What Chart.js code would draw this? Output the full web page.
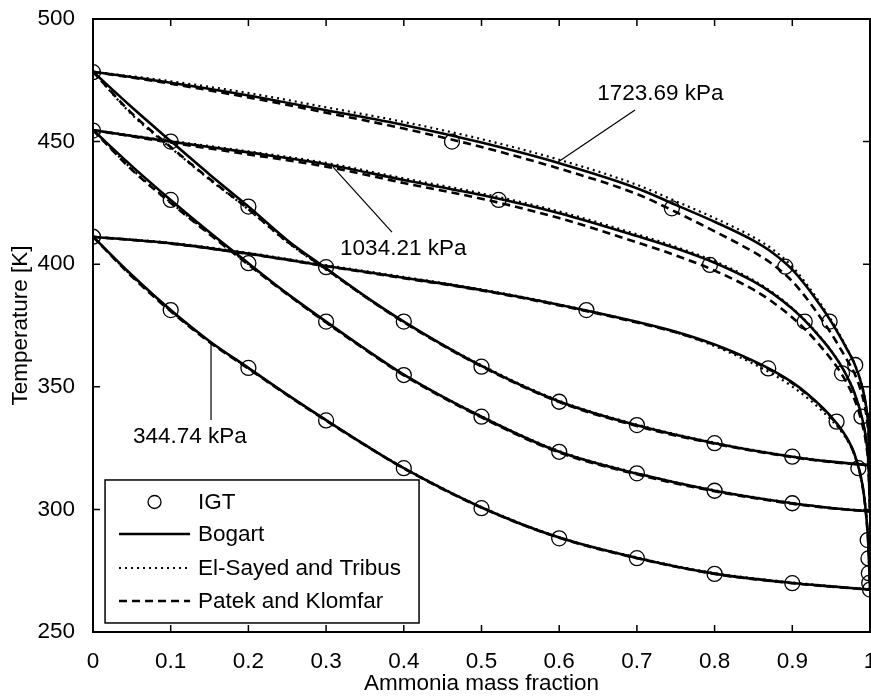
<!DOCTYPE html>
<html><head><meta charset="utf-8">
<script src="https://cdn.jsdelivr.net/npm/chart.js@4.4.0/dist/chart.umd.min.js"></script>
<style>html,body{margin:0;padding:0;background:#fff;}canvas{display:block;}</style>
</head><body>
<canvas id="c" width="871" height="698"></canvas>
<script>
// ---------------- data ----------------
const xBubble = [0,0.05,0.1,0.15,0.2,0.25,0.3,0.35,0.4,0.5,0.6,0.7,0.8,0.9,0.95,1];
const xDew = [0,0.1,0.2,0.3,0.4,0.5,0.6,0.7,0.75,0.8,0.85,0.875,0.9,0.92,0.94,0.95,0.96,0.97,0.98,0.99,0.995,0.998,1];

// Bogart (solid)
const bogartBubble1723 = [478.5,464.0,450.2,436.6,423.5,409.8,398.3,387.0,376.6,358.5,344.0,334.3,327.0,321.5,319.5,318.0];
const bogartBubble1034 = [454.7,440.0,426.2,413.0,400.4,388.0,376.6,365.5,355.0,337.8,323.5,314.6,307.6,302.5,300.6,299.2];
const bogartBubble344  = [411.2,395.6,381.3,368.6,357.7,346.8,336.4,326.3,316.8,300.8,288.5,280.2,273.8,270.0,268.6,267.3];
const bogartDew1723 = [478.5,474.0,468.8,462.8,456.8,449.6,441.2,431.0,424.2,417.3,409.6,404.6,397.8,390.2,381.4,376.6,371.3,365.6,359.4,350.0,342.0,333.0,318.0];
const bogartDew1034 = [454.7,450.0,445.6,440.8,434.3,428.2,420.8,411.5,406.5,400.6,393.0,388.0,381.8,375.8,368.6,364.6,360.0,354.5,347.5,337.0,328.5,318.5,299.2];
const bogartDew344  = [411.2,408.5,404.3,399.3,394.5,389.5,383.5,376.5,372.5,367.3,360.6,356.6,351.8,347.0,341.2,337.8,334.0,329.3,322.6,310.5,298.0,285.0,267.3];

// El-Sayed and Tribus (dotted)
const elsayedBubble1723 = [478.5,461.0,447.5,434.5,422.3,409.0,397.8,386.8,376.4,358.8,344.3,334.6,327.2,321.6,319.5,318.0];
const elsayedBubble1034 = [454.7,438.8,425.2,412.4,400.0,388.0,376.4,365.4,355.0,338.0,323.8,314.8,307.8,302.6,300.6,299.2];
const elsayedBubble344  = [411.2,395.2,381.0,368.4,357.6,346.8,336.4,326.4,317.0,301.0,288.7,280.4,274.0,270.2,268.7,267.3];
const elsayedDew1723 = [478.5,474.6,469.8,464.0,458.0,451.0,442.6,432.4,425.7,418.8,411.0,406.0,399.0,391.2,382.2,377.3,371.8,365.9,359.6,350.1,342.0,333.0,318.0];
const elsayedDew1034 = [454.7,450.3,446.0,441.3,435.0,428.9,421.5,412.2,407.1,401.2,393.5,388.4,382.1,376.0,368.8,364.7,360.1,354.6,347.6,337.0,328.5,318.5,299.2];
const elsayedDew344  = [411.2,408.7,404.6,399.6,394.8,389.7,383.6,376.4,372.2,366.6,359.4,355.1,350.1,345.3,339.7,336.5,333.0,328.6,322.2,310.3,298.0,285.0,267.3];

// Patek and Klomfar (dashed)
const patekBubble1723 = [478.5,461.5,447.8,434.8,422.5,409.2,398.0,386.8,376.3,358.3,343.8,334.0,326.8,321.3,319.3,318.0];
const patekBubble1034 = [454.7,438.5,425.0,412.2,399.8,387.7,376.2,365.2,354.7,337.5,323.2,314.3,307.4,302.3,300.5,299.2];
const patekBubble344  = [411.2,395.0,380.8,368.2,357.4,346.6,336.2,326.2,316.7,300.7,288.4,280.1,273.7,269.9,268.5,267.3];
const patekDew1723 = [478.5,473.6,468.0,461.8,455.3,447.8,439.0,428.6,421.3,413.4,405.0,399.9,393.0,385.4,376.5,371.8,366.6,361.2,355.5,346.5,339.0,330.5,318.0];
const patekDew1034 = [454.7,449.6,444.8,439.8,433.1,426.7,418.8,408.9,403.6,397.4,389.6,384.5,378.3,372.3,365.2,361.3,356.9,351.6,344.9,334.8,326.7,317.2,299.2];
const patekDew344  = [411.2,408.4,404.2,399.2,394.3,389.3,383.2,376.2,372.2,367.0,360.3,356.3,351.5,346.7,340.9,337.5,333.7,329.0,322.4,310.3,297.8,285.0,267.3];

// IGT experimental points
const igtX = [0,0,0, 0.1,0.1,0.1, 0.2,0.2,0.2, 0.3,0.3,0.3, 0.4,0.4,0.4, 0.5,0.5,0.5, 0.6,0.6,0.6, 0.7,0.7,0.7, 0.8,0.8,0.8, 0.9,0.9,0.9,
  0.462,0.745,0.891,0.948,0.981,
  0.522,0.794,0.916,0.964,0.989,
  0.635,0.869,0.957,0.985,0.997,0.998,0.9985,0.999,1.0];
const igtT = [478.3,454.5,411.2, 450.0,426.2,381.3, 423.5,400.4,357.7, 398.8,376.6,336.3, 376.6,354.8,316.8, 358.2,337.8,300.5, 343.9,323.5,288.2, 334.4,314.7,280.1, 327.0,307.6,273.7, 321.5,302.5,269.9,
  450.0,422.8,399.0,376.6,358.9,
  426.2,399.7,376.6,355.5,337.8,
  381.3,357.5,335.8,316.8,287.5,280.0,274.0,270.0,267.3];

const xTickLabels = ['0','0.1','0.2','0.3','0.4','0.5','0.6','0.7','0.8','0.9','1'];
const yTickLabels = ['250','300','350','400','450','500'];

const legendLabels = ['IGT','Bogart','El-Sayed and Tribus','Patek and Klomfar'];
// pressure labels: text, text anchor (x,T), leader from (x,T) to (x,T)
const pressureLabels = ['1723.69 kPa','1034.21 kPa','344.74 kPa'];
const labelAnchorX = [0.649, 0.318, 0.0515];
const labelAnchorT = [469.4, 406.2, 329.5];
const leaderX1 = [0.6976, 0.309, 0.1519];
const leaderT1 = [462.9, 439.6, 367.9];
const leaderX2 = [0.5985, 0.3848, 0.1519];
const leaderT2 = [441.7, 413.1, 336.5];

// ---------------- chart ----------------
const FONT = '"Liberation Sans", Arial, Helvetica, sans-serif';
const FS = 22.5;
const zip = (xs, ys) => xs.map((v, i) => ({x: v, y: ys[i]}));

const styles = {
  bogart:  {borderDash: [], borderWidth: 2.6},
  elsayed: {borderDash: [2, 4], borderWidth: 2.2},
  patek:   {borderDash: [8, 5], borderWidth: 2.6}
};
function lineDs(label, xs, ys, st) {
  return {
    label, data: zip(xs, ys), showLine: true, pointRadius: 0, pointHoverRadius: 0,
    borderColor: '#000', backgroundColor: '#000', fill: false,
    borderWidth: st.borderWidth, borderDash: st.borderDash,
    cubicInterpolationMode: 'monotone', borderCapStyle: 'butt'
  };
}
const datasets = [
  {label: 'IGT', data: zip(igtX, igtT), showLine: false, pointRadius: 7.5, pointStyle: 'circle',
   pointBorderColor: '#000', pointBackgroundColor: 'rgba(0,0,0,0)', pointBorderWidth: 1.3, borderColor:'#000'},
  lineDs('Bogart', xBubble, bogartBubble1723, styles.bogart),
  lineDs('Bogart', xBubble, bogartBubble1034, styles.bogart),
  lineDs('Bogart', xBubble, bogartBubble344, styles.bogart),
  lineDs('Bogart', xDew, bogartDew1723, styles.bogart),
  lineDs('Bogart', xDew, bogartDew1034, styles.bogart),
  lineDs('Bogart', xDew, bogartDew344, styles.bogart),
  lineDs('El-Sayed', xBubble, elsayedBubble1723, styles.elsayed),
  lineDs('El-Sayed', xBubble, elsayedBubble1034, styles.elsayed),
  lineDs('El-Sayed', xBubble, elsayedBubble344, styles.elsayed),
  lineDs('El-Sayed', xDew, elsayedDew1723, styles.elsayed),
  lineDs('El-Sayed', xDew, elsayedDew1034, styles.elsayed),
  lineDs('El-Sayed', xDew, elsayedDew344, styles.elsayed),
  lineDs('Patek', xBubble, patekBubble1723, styles.patek),
  lineDs('Patek', xBubble, patekBubble1034, styles.patek),
  lineDs('Patek', xBubble, patekBubble344, styles.patek),
  lineDs('Patek', xDew, patekDew1723, styles.patek),
  lineDs('Patek', xDew, patekDew1034, styles.patek),
  lineDs('Patek', xDew, patekDew344, styles.patek)
];

const decor = {
  id: 'decor',
  afterDraw(chart) {
    const {ctx, chartArea: a, scales: {x, y}} = chart;
    ctx.save();
    ctx.fillStyle = '#000'; ctx.strokeStyle = '#000';
    ctx.font = FS + 'px ' + FONT;

    // pressure labels with leader lines
    ctx.lineWidth = 1.2;
    ctx.textAlign = 'left'; ctx.textBaseline = 'middle';
    pressureLabels.forEach((t, i) => {
      ctx.beginPath();
      ctx.moveTo(x.getPixelForValue(leaderX1[i]), y.getPixelForValue(leaderT1[i]));
      ctx.lineTo(x.getPixelForValue(leaderX2[i]), y.getPixelForValue(leaderT2[i]));
      ctx.stroke();
      ctx.fillText(t, x.getPixelForValue(labelAnchorX[i]), y.getPixelForValue(labelAnchorT[i]));
    });

    // legend box
    const lx = x.getPixelForValue(0.0155), ly = y.getPixelForValue(312.0);
    const lw = 314, lh = 143;
    ctx.fillStyle = '#fff';
    ctx.fillRect(lx, ly, lw, lh);
    ctx.lineWidth = 1.5;
    ctx.strokeRect(lx, ly, lw, lh);
    ctx.fillStyle = '#000';
    const rowY = [ly + 22, ly + 54, ly + 88, ly + 121];
    const x1 = lx + 14, x2 = lx + 85, tx = lx + 93;
    ctx.lineWidth = 1.3; ctx.setLineDash([]);
    ctx.beginPath(); ctx.arc((x1 + x2) / 2, rowY[0], 6.5, 0, Math.PI * 2); ctx.stroke();
    const st = [styles.bogart, styles.elsayed, styles.patek];
    for (let k = 0; k < 3; k++) {
      ctx.lineWidth = st[k].borderWidth; ctx.setLineDash(st[k].borderDash);
      ctx.beginPath(); ctx.moveTo(x1, rowY[k + 1]); ctx.lineTo(x2, rowY[k + 1]); ctx.stroke();
    }
    ctx.setLineDash([]);
    legendLabels.forEach((t, i) => ctx.fillText(t, tx, rowY[i] + 1));

    // frame
    ctx.lineWidth = 2;
    ctx.strokeRect(a.left, a.top, a.right - a.left, a.bottom - a.top);
    // inward ticks
    ctx.lineWidth = 1.5;
    const tl = 7;
    x.ticks.forEach(t => {
      const px = x.getPixelForValue(t.value);
      ctx.beginPath();
      ctx.moveTo(px, a.bottom); ctx.lineTo(px, a.bottom - tl);
      ctx.moveTo(px, a.top); ctx.lineTo(px, a.top + tl);
      ctx.stroke();
    });
    y.ticks.forEach(t => {
      const py = y.getPixelForValue(t.value);
      ctx.beginPath();
      ctx.moveTo(a.left, py); ctx.lineTo(a.left + tl, py);
      ctx.moveTo(a.right, py); ctx.lineTo(a.right - tl, py);
      ctx.stroke();
    });

    // axis titles
    ctx.textAlign = 'center'; ctx.textBaseline = 'middle';
    ctx.fillText('Ammonia mass fraction', (a.left + a.right) / 2, 684);
    ctx.translate(21, (a.top + a.bottom) / 2);
    ctx.rotate(-Math.PI / 2);
    ctx.fillText('Temperature [K]', 0, 0);
    ctx.restore();
  }
};

function zeroPad(s) { s.paddingTop = 0; s.paddingBottom = 0; s.paddingLeft = 0; s.paddingRight = 0; }

new Chart(document.getElementById('c'), {
  type: 'scatter',
  data: {datasets},
  options: {
    responsive: false, animation: false, devicePixelRatio: 1,
    layout: {padding: {left: 0, top: 19, right: 1, bottom: 0}, autoPadding: false},
    plugins: {legend: {display: false}, tooltip: {enabled: false}},
    scales: {
      x: {
        type: 'linear', min: 0, max: 1,
        afterFit: s => { s.height = 66; zeroPad(s); },
        grid: {display: false}, border: {display: false},
        ticks: {stepSize: 0.1, autoSkip: false, maxRotation: 0, padding: 8, color: '#000',
                font: {family: FONT, size: FS}, callback: (v, i) => xTickLabels[i]}
      },
      y: {
        type: 'linear', min: 250, max: 500,
        afterFit: s => { s.width = 93; zeroPad(s); },
        grid: {display: false}, border: {display: false},
        ticks: {stepSize: 50, padding: 10, color: '#000',
                font: {family: FONT, size: FS}, callback: (v, i) => yTickLabels[i]}
      }
    }
  },
  plugins: [decor]
});
</script>
</body></html>
